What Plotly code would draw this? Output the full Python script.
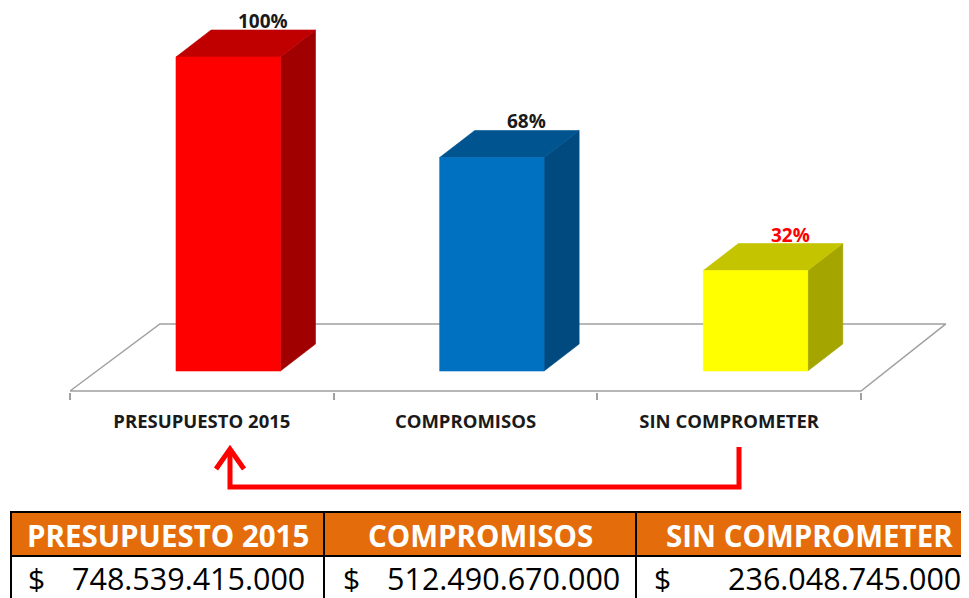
import plotly.graph_objects as go

# ---------------- data ----------------
categories = ["PRESUPUESTO 2015", "COMPROMISOS", "SIN COMPROMETER"]
percent_values = [100, 68, 32]
percent_labels = ["100%", "68%", "32%"]
amount_labels = ["748.539.415.000", "512.490.670.000", "236.048.745.000"]
currency_symbol = "$"

# ---------------- styles ----------------
front_colors = ["#FF0000", "#0070C0", "#FFFF00"]
top_colors = ["#C00000", "#00548F", "#C4C400"]
side_colors = ["#A00000", "#004A80", "#A5A500"]
label_colors = ["#1A1A1A", "#1A1A1A", "#FF0000"]
FLOOR_LINE = "#A0A0A0"
HEADER_FILL = "#E46C0A"
ARROW_RED = "#FF0000"
FONT = "Open Sans"

# The page body has an 8px margin, so the figure is sized to fill the window exactly
PAGE_OFF = 8
WIN_W, WIN_H = 969, 598
W, H = WIN_W - PAGE_OFF, WIN_H - PAGE_OFF

PLOT_BOTTOM = 392          # window pixel row where the plot area ends (floor front edge)
X_LEFT_PX, X_RIGHT_PX = 70, 861   # window pixels of category boundaries -0.5 and 2.5
px_per_x = (X_RIGHT_PX - X_LEFT_PX) / 3.0
px_per_y = 3.14
BASE_PX = 371                     # window pixel row of value 0
x_range = [-0.5 - (X_LEFT_PX - PAGE_OFF) / px_per_x, 2.5 + (WIN_W - X_RIGHT_PX) / px_per_x]
y_range = [-(PLOT_BOTTOM - BASE_PX) / px_per_y, (BASE_PX - PAGE_OFF) / px_per_y]

# 3-D bar geometry (data units)
BAR_OFF = 0.1
BAR_HW = 0.198
DEPTH_X = 0.133
DEPTH_Y = 8.6
FLOOR_FRONT_Y = -20 / px_per_y
FLOOR_BACK_Y = 15.0
FLOOR_BACK_DX_L = 0.341
FLOOR_BACK_DX_R = 0.322

fig = go.Figure()


def poly(xs, ys, color, lw=0.6, lc=None, fillc=None):
    fig.add_trace(go.Scatter(
        x=xs + [xs[0]], y=ys + [ys[0]], mode="lines", fill="toself",
        fillcolor=fillc if fillc else color,
        line=dict(color=lc if lc else color, width=lw),
        hoverinfo="skip", showlegend=False))


# floor
fx = [-0.5, 2.5, 2.5 + FLOOR_BACK_DX_R, -0.5 + FLOOR_BACK_DX_L]
fy = [FLOOR_FRONT_Y, FLOOR_FRONT_Y, FLOOR_BACK_Y, FLOOR_BACK_Y]
poly(fx, fy, FLOOR_LINE, lw=1.5, lc=FLOOR_LINE, fillc="white")

# bars
for i, v in enumerate(percent_values):
    c = i + BAR_OFF
    l, r = c - BAR_HW, c + BAR_HW
    poly([r, r + DEPTH_X, r + DEPTH_X, r], [0, DEPTH_Y, v + DEPTH_Y, v], side_colors[i])
    poly([l, r, r + DEPTH_X, l + DEPTH_X], [v, v, v + DEPTH_Y, v + DEPTH_Y], top_colors[i])
    poly([l, r, r, l], [0, 0, v, v], front_colors[i])

annotations = []
for i, v in enumerate(percent_values):
    annotations.append(dict(
        x=i + BAR_OFF + DEPTH_X, y=v + DEPTH_Y, xref="x", yref="y",
        text=percent_labels[i], showarrow=False, yanchor="middle", yshift=9,
        font=dict(family=FONT, size=19, weight=700, color=label_colors[i])))


# ---------- window-pixel helpers for decorations (paper coords) ----------
def PX(x):
    return (x - PAGE_OFF) / W


def PY(y):
    return (PLOT_BOTTOM - y) / (PLOT_BOTTOM - PAGE_OFF)


shapes = []
# arrow
shapes.append(dict(type="path", xref="paper", yref="paper",
                   path=f"M {PX(739)},{PY(447)} L {PX(739)},{PY(487)} L {PX(230)},{PY(487)} L {PX(230)},{PY(451)}",
                   line=dict(color=ARROW_RED, width=5)))
shapes.append(dict(type="path", xref="paper", yref="paper",
                   path=f"M {PX(216)},{PY(469)} L {PX(230)},{PY(449)} L {PX(244)},{PY(469)}",
                   line=dict(color=ARROW_RED, width=5)))

# table
col_edges = [11, 324, 636, 985]
HEAD_TOP, HEAD_BOT, ROW_BOT = 512, 556, 615
shapes.append(dict(type="rect", xref="paper", yref="paper",
                   x0=PX(col_edges[0]), x1=PX(col_edges[-1]), y0=PY(HEAD_TOP), y1=PY(HEAD_BOT),
                   fillcolor=HEADER_FILL, line=dict(color="black", width=2)))
shapes.append(dict(type="rect", xref="paper", yref="paper",
                   x0=PX(col_edges[0]), x1=PX(col_edges[-1]), y0=PY(HEAD_BOT), y1=PY(ROW_BOT),
                   fillcolor="white", line=dict(color="black", width=2)))
for xe in col_edges[1:-1]:
    shapes.append(dict(type="line", xref="paper", yref="paper",
                       x0=PX(xe), x1=PX(xe), y0=PY(HEAD_TOP), y1=PY(ROW_BOT),
                       line=dict(color="black", width=2)))

head_centers = [167.5, 480, 809]
dollar_x = [26, 341, 652]
number_right = [307, 622, 963]
for i, name in enumerate(categories):
    annotations.append(dict(x=PX(head_centers[i]), y=PY(535), xref="paper", yref="paper",
                            text=name, showarrow=False, xanchor="center", yanchor="middle",
                            font=dict(family=FONT, size=29.5, weight=700, color="white")))
    annotations.append(dict(x=PX(dollar_x[i]), y=PY(578), xref="paper", yref="paper",
                            text=currency_symbol, showarrow=False, xanchor="left", yanchor="middle",
                            font=dict(family=FONT, size=30, color="black")))
    annotations.append(dict(x=PX(number_right[i]), y=PY(578), xref="paper", yref="paper",
                            text=amount_labels[i], showarrow=False, xanchor="right", yanchor="middle",
                            font=dict(family=FONT, size=30.5, color="black")))

fig.update_layout(
    width=W, height=H,
    margin=dict(l=0, r=0, t=0, b=H - (PLOT_BOTTOM - PAGE_OFF), pad=0),
    paper_bgcolor="white", plot_bgcolor="white",
    showlegend=False,
    xaxis=dict(range=x_range, tickmode="array", tickvals=[0, 1, 2], ticktext=categories,
               ticks="", showgrid=False, zeroline=False, showline=False,
               tickfont=dict(family=FONT, size=18.5, weight=700, color="#1A1A1A"),
               ticklabelstandoff=16,
               minor=dict(tickmode="array", tickvals=[-0.5, 0.5, 1.5, 2.5], ticks="outside",
                          ticklen=7, tickwidth=1.5, tickcolor=FLOOR_LINE, showgrid=False),
               fixedrange=True),
    yaxis=dict(range=y_range, visible=False, fixedrange=True),
    shapes=shapes, annotations=annotations,
)

fig.write_html("out.html")
